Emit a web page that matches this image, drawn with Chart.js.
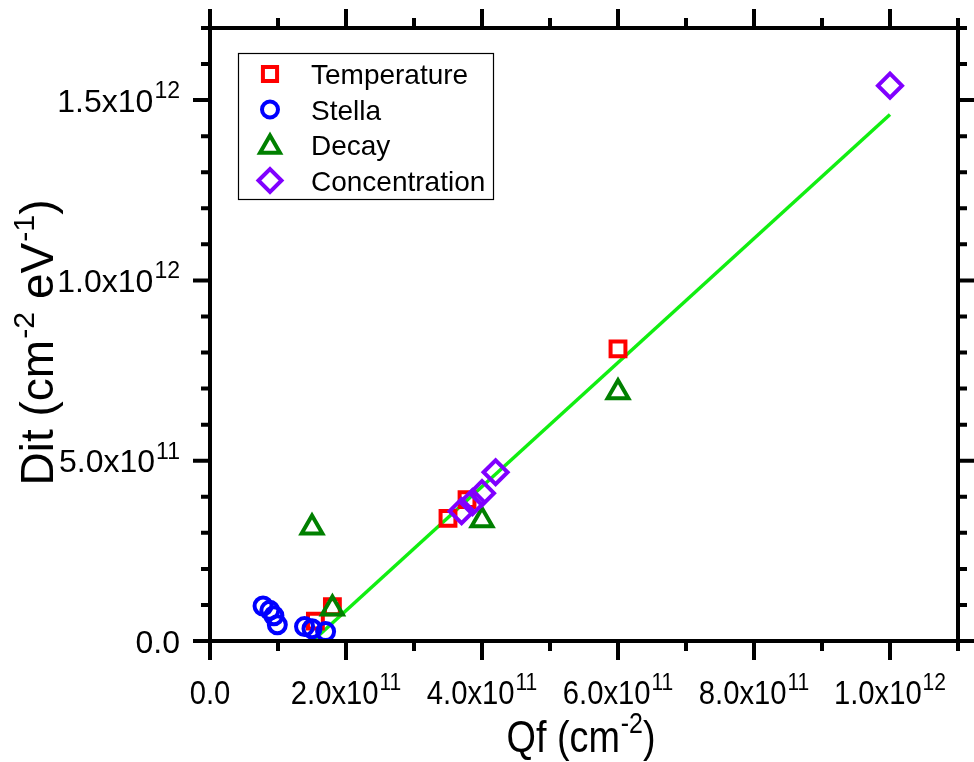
<!DOCTYPE html>
<html><head><meta charset="utf-8">
<script src="https://cdn.jsdelivr.net/npm/chart.js@4/dist/chart.umd.min.js"></script>
<style>html,body{margin:0;padding:0;background:#fff}</style>
</head><body>
<canvas id="c" width="974" height="762"></canvas>
<script>
// ---------- data ----------
const seriesNames = ['Temperature', 'Stella', 'Decay', 'Concentration'];
const temperatureQf  = [1.55e11, 1.80e11, 3.50e11, 3.78e11, 6.00e11];
const temperatureDit = [0.55e11, 0.95e11, 3.40e11, 3.92e11, 8.10e11];
const stellaQf  = [0.78e11, 0.88e11, 0.94e11, 0.99e11, 1.39e11, 1.50e11, 1.70e11];
const stellaDit = [0.97e11, 0.85e11, 0.70e11, 0.45e11, 0.40e11, 0.34e11, 0.26e11];
const decayQf  = [1.50e11, 1.80e11, 4.00e11, 6.00e11];
const decayDit = [3.15e11, 0.90e11, 3.35e11, 6.90e11];
const concQf  = [3.70e11, 3.86e11, 4.00e11, 4.20e11, 1.00e12];
const concDit = [3.60e11, 3.85e11, 4.10e11, 4.68e11, 1.54e12];
const fitQf  = [1.51e11, 1.00e12];
const fitDit = [0.00e00, 1.46e12];

const xMin = 0, xMax = 1.1e12, xMinorStep = 1e11;
const yMin = 0, yMax = 1.7e12, yMinorStep = 1e11;
const xTickValues = [0, 2e11, 4e11, 6e11, 8e11, 1e12];
const xTickLabels = ['0.0', '2.0x10^{11}', '4.0x10^{11}', '6.0x10^{11}', '8.0x10^{11}', '1.0x10^{12}'];
const yTickValues = [0, 5e11, 1e12, 1.5e12];
const yTickLabels = ['0.0', '5.0x10^{11}', '1.0x10^{12}', '1.5x10^{12}'];
const xTitle = 'Qf (cm^{-2})';
const yTitle = 'Dit (cm^{-2} eV^{-1})';

// ---------- helpers ----------
const pts = (xs, ys) => xs.map((x, i) => ({x, y: ys[i]}));
const FONT = '"Liberation Sans", Arial, sans-serif';

function segs(str) {
  const out = []; const re = /\^\{([^}]*)\}/g; let last = 0, m;
  while ((m = re.exec(str))) {
    if (m.index > last) out.push([str.slice(last, m.index), false]);
    out.push([m[1], true]); last = re.lastIndex;
  }
  if (last < str.length) out.push([str.slice(last), false]);
  return out;
}
function drawRich(ctx, str, x, y, size, align, sx, supScale, supRise) {
  const parts = segs(str);
  const ss = size * supScale;
  let total = 0; const widths = [];
  for (const [t, sup] of parts) {
    ctx.font = (sup ? ss : size) + 'px ' + FONT;
    const w = ctx.measureText(t).width + (sup ? 1 : 0);
    widths.push(w); total += w;
  }
  ctx.save();
  ctx.translate(x, y); ctx.scale(sx, 1);
  let cx = align === 'center' ? -total / 2 : (align === 'right' ? -total : 0);
  ctx.textAlign = 'left'; ctx.textBaseline = 'alphabetic'; ctx.fillStyle = '#000';
  parts.forEach(([t, sup], i) => {
    ctx.font = (sup ? ss : size) + 'px ' + FONT;
    ctx.fillText(t, cx + (sup ? 1 : 0), sup ? -size * supRise : 0);
    cx += widths[i];
  });
  ctx.restore();
}

function drawMarker(ctx, style, x, y, r, color) {
  ctx.save(); ctx.strokeStyle = color; ctx.lineWidth = 4; ctx.beginPath();
  if (style === 'rect') { const s = Math.SQRT1_2 * r; ctx.rect(x - s, y - s, 2 * s, 2 * s); }
  else if (style === 'circle') { ctx.arc(x, y, r, 0, Math.PI * 2); }
  else if (style === 'triangle') {
    let a = 0; ctx.moveTo(x + Math.sin(a) * r, y - Math.cos(a) * r);
    a += 2 * Math.PI / 3; ctx.lineTo(x + Math.sin(a) * r, y - Math.cos(a) * r);
    a += 2 * Math.PI / 3; ctx.lineTo(x + Math.sin(a) * r, y - Math.cos(a) * r); ctx.closePath();
  } else if (style === 'rectRot') {
    ctx.moveTo(x - r, y); ctx.lineTo(x, y - r); ctx.lineTo(x + r, y); ctx.lineTo(x, y + r); ctx.closePath();
  }
  ctx.stroke(); ctx.restore();
}

const framePlugin = {
  id: 'frame',
  afterDraw(chart) {
    const ctx = chart.ctx, xs = chart.scales.x, ys = chart.scales.y;
    const L = xs.getPixelForValue(xMin), R = xs.getPixelForValue(xMax);
    const T = ys.getPixelForValue(yMax), B = ys.getPixelForValue(yMin);
    ctx.save();
    ctx.strokeStyle = '#000'; ctx.lineWidth = 4; ctx.lineCap = 'butt';
    ctx.beginPath();
    ctx.moveTo(L - 2, B); ctx.lineTo(R + 2, B);
    ctx.moveTo(L - 2, T); ctx.lineTo(R + 2, T);
    ctx.moveTo(L, T - 2); ctx.lineTo(L, B + 2);
    ctx.moveTo(R, T - 2); ctx.lineTo(R, B + 2);
    ctx.stroke();
    ctx.lineWidth = 4;
    ctx.beginPath();
    const isMajorX = v => xTickValues.some(t => Math.abs(t - v) < 1);
    const isMajorY = v => yTickValues.some(t => Math.abs(t - v) < 1);
    for (let i = 0; i * xMinorStep <= xMax + 1; i++) {
      const v = i * xMinorStep, px = xs.getPixelForValue(v);
      const len = isMajorX(v) ? 19 : 10;
      ctx.moveTo(px, B); ctx.lineTo(px, B + len);
      ctx.moveTo(px, T); ctx.lineTo(px, T - len);
    }
    for (let i = 0; i * yMinorStep <= yMax + 1; i++) {
      const v = i * yMinorStep, py = ys.getPixelForValue(v);
      const len = isMajorY(v) ? 17 : 9;
      ctx.moveTo(L, py); ctx.lineTo(L - len, py);
      ctx.moveTo(R, py); ctx.lineTo(R + len, py);
    }
    ctx.stroke();
    // tick labels
    xTickValues.forEach((v, i) => drawRich(ctx, xTickLabels[i], xs.getPixelForValue(v), 704, 34, 'center', 0.86, 0.72, 0.42));
    yTickValues.forEach((v, i) => drawRich(ctx, yTickLabels[i], 180, ys.getPixelForValue(v) + 11.5, 32, 'right', 1, 0.72, 0.42));
    // axis titles
    drawRich(ctx, xTitle, (L + R) / 2 - 3, 752, 45, 'center', 0.84, 0.66, 0.42);
    ctx.save(); ctx.translate(53, (T + B) / 2 + 8); ctx.rotate(-Math.PI / 2);
    drawRich(ctx, yTitle, 0, 0, 46, 'center', 1, 0.66, 0.42);
    ctx.restore();
    // legend
    ctx.lineWidth = 1.2; ctx.strokeStyle = '#000';
    ctx.strokeRect(238.5, 53.5, 255, 146);
    const ds = chart.data.datasets.filter(d => d.inLegend);
    ds.forEach((d, i) => {
      const y = 74 + i * 35.5;
      drawMarker(ctx, d.pointStyle, 270, d.pointStyle === 'triangle' ? y + 2 : y, d.legendR, d.borderColor);
      ctx.font = '28px ' + FONT; ctx.fillStyle = '#000'; ctx.textAlign = 'left'; ctx.textBaseline = 'alphabetic';
      ctx.fillText(d.label, 311, y + 10);
    });
    ctx.restore();
  }
};

const common = {backgroundColor: 'rgba(0,0,0,0)', borderWidth: 4, showLine: false, inLegend: true, clip: false};
new Chart(document.getElementById('c'), {
  type: 'scatter',
  data: {
    datasets: [
      Object.assign({}, common, {label: seriesNames[0], data: pts(temperatureQf, temperatureDit), pointStyle: 'rect', pointRadius: 10.5, legendR: 10, borderColor: '#ff0000', order: 4}),
      Object.assign({}, common, {label: seriesNames[1], data: pts(stellaQf, stellaDit), pointStyle: 'circle', pointRadius: 8.5, legendR: 8, borderColor: '#0000ff', order: 3}),
      Object.assign({}, common, {label: seriesNames[2], data: pts(decayQf, decayDit), pointStyle: 'triangle', pointRadius: 12, legendR: 11.5, borderColor: '#008000', order: 2}),
      Object.assign({}, common, {label: seriesNames[3], data: pts(concQf, concDit), pointStyle: 'rectRot', pointRadius: 12, legendR: 11.5, borderColor: '#8000ff', order: 1}),
      {label: 'fit', data: pts(fitQf, fitDit), showLine: true, pointRadius: 0, borderColor: '#11ee11', borderWidth: 3.5, backgroundColor: 'rgba(0,0,0,0)', order: 10, inLegend: false, clip: false}
    ]
  },
  options: {
    responsive: false, animation: false, devicePixelRatio: 1,
    layout: {padding: {left: 210, right: 14, top: 28, bottom: 121}},
    plugins: {legend: {display: false}, tooltip: {enabled: false}},
    elements: {point: {hoverRadius: 0}},
    scales: {
      x: {type: 'linear', min: xMin, max: xMax, display: false},
      y: {type: 'linear', min: yMin, max: yMax, display: false}
    }
  },
  plugins: [framePlugin]
});
</script>
</body></html>
